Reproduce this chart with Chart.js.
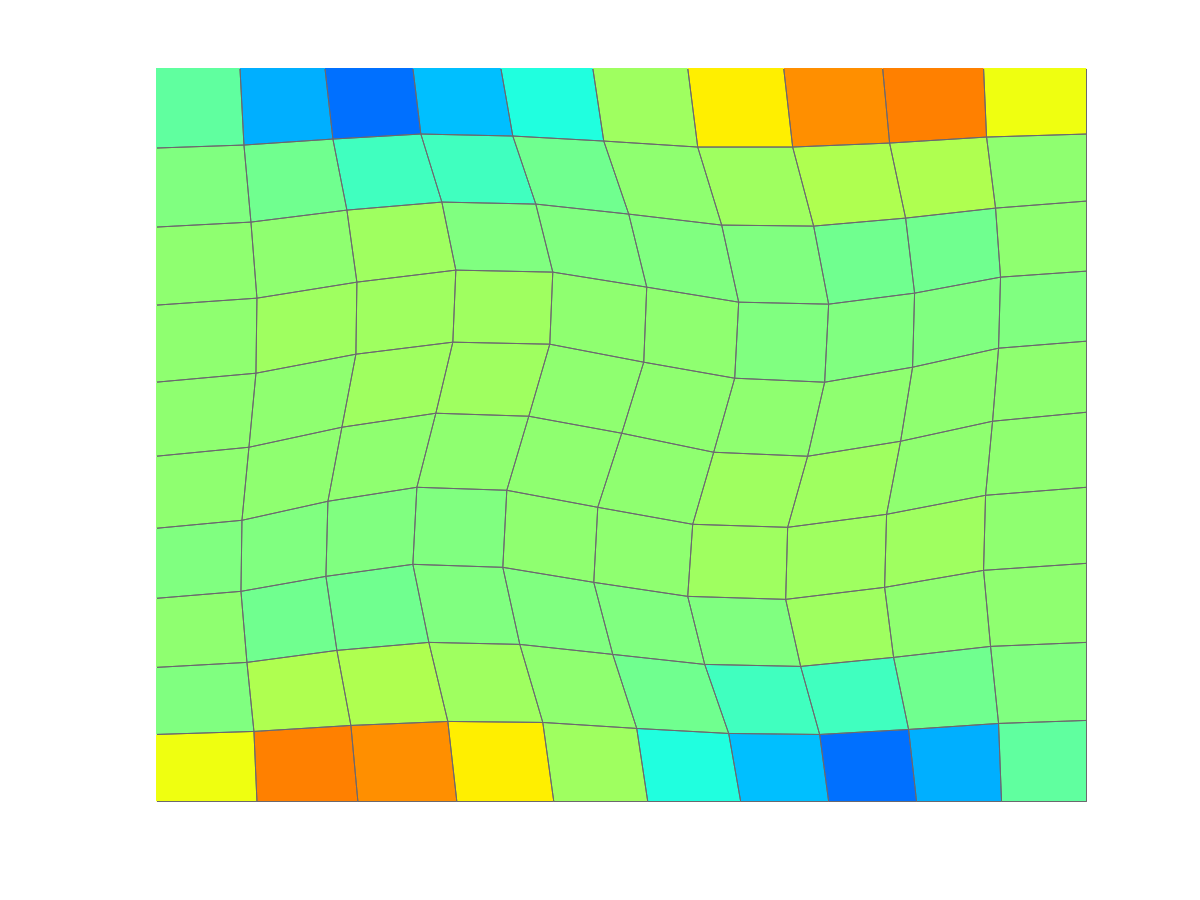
<!DOCTYPE html>
<html>
<head>
<meta charset="utf-8">
<script src="https://cdn.jsdelivr.net/npm/chart.js@4"></script>
<style>
  html, body { margin: 0; padding: 0; background: #fff; }
  canvas { display: block; }
</style>
</head>
<body>
<canvas id="mesh" width="1200" height="900"></canvas>
<script>
// mesh vertices, rows go from the top edge to the bottom edge
const meshX = [
  [0, 84, 169, 257, 345, 437, 532, 628, 727, 828, 931],
  [0, 88, 177, 265, 357, 448, 542, 637, 734, 831, 931],
  [0, 95, 191, 286, 380, 473, 566, 658, 750, 840, 931],
  [0, 101, 201, 300, 397, 491, 583, 673, 759, 845, 931],
  [0, 100, 200, 297, 394, 488, 579, 669, 757, 843, 931],
  [0, 93, 186, 280, 373, 466, 558, 652, 745, 837, 931],
  [0, 86, 172, 261, 351, 442, 537, 632, 731, 830, 931],
  [0, 85, 170, 257, 347, 438, 532, 630, 729, 828, 931],
  [0, 91, 181, 273, 364, 457, 549, 645, 738, 835, 931],
  [0, 98, 195, 292, 387, 481, 573, 664, 753, 843, 931],
  [0, 101, 202, 301, 398, 492, 585, 673, 761, 846, 931]
];
const meshY = [
  [733, 733, 733, 733, 733, 733, 733, 733, 733, 733, 733],
  [653, 656, 662, 667, 665, 660, 654, 654, 658, 664, 667],
  [574, 579, 591, 599, 597, 587, 576, 575, 583, 593, 600],
  [496, 503, 519, 531, 529, 514, 499, 497, 508, 524, 530],
  [419, 428, 447, 459, 457, 439, 423, 419, 434, 453, 460],
  [345, 354, 374, 388, 385, 368, 349, 345, 360, 380, 389],
  [273, 281, 300, 314, 311, 294, 277, 274, 287, 306, 314],
  [203, 210, 225, 237, 234, 219, 205, 202, 214, 231, 238],
  [134, 139, 151, 159, 157, 147, 137, 135, 144, 155, 159],
  [67, 70, 76, 80, 79, 73, 68, 67, 72, 78, 81],
  [0, 0, 0, 0, 0, 0, 0, 0, 0, 0, 0]
];
// cell values as colormap levels 1..64
const cellLevels = [
  [30, 19, 15, 20, 26, 34, 40, 46, 47, 39],
  [32, 31, 28, 28, 31, 33, 34, 35, 35, 33],
  [33, 33, 34, 32, 32, 32, 32, 31, 31, 33],
  [33, 34, 34, 34, 33, 33, 32, 32, 32, 32],
  [33, 33, 34, 34, 33, 33, 33, 33, 33, 33],
  [33, 33, 33, 33, 33, 33, 34, 34, 33, 33],
  [32, 32, 32, 32, 33, 33, 34, 34, 34, 33],
  [33, 31, 31, 32, 32, 32, 32, 34, 33, 33],
  [32, 35, 35, 34, 33, 31, 28, 28, 31, 32],
  [39, 47, 46, 40, 34, 26, 20, 15, 19, 30]
];

const edgeColor = '#6b686e';

// jet(64), same ramps as matlab
function jet(k) {
  const c = t => Math.round(255 * Math.max(0, Math.min(1, t)));
  const r = c(Math.min((k - 24) / 16, (71 - k) / 16));
  const g = c(Math.min((k - 8) / 16, (55 - k) / 16));
  const b = c(Math.min((k + 8) / 16, (40 - k) / 16));
  return `rgb(${r},${g},${b})`;
}

// every cell is a closed line dataset
const datasets = [];
cellLevels.forEach((row, i) => {
  row.forEach((level, j) => {
    const corners = [[i, j], [i, j + 1], [i + 1, j + 1], [i + 1, j], [i, j]];
    datasets.push({
      data: corners.map(([r, c]) => ({ x: meshX[r][c], y: meshY[r][c] })),
      showLine: true,
      fill: 'shape',
      backgroundColor: jet(level),
      borderColor: edgeColor,
      borderWidth: 1,
      pointRadius: 0,
      tension: 0,
      // left and top edges of the mesh are not visible in the picture
      clip: { left: -1, top: -1, right: 1, bottom: 1 }
    });
  });
});

new Chart(document.getElementById('mesh'), {
  type: 'scatter',
  data: { datasets: datasets },
  options: {
    responsive: false,
    animation: false,
    layout: { padding: { left: 156, right: 113.5, top: 68, bottom: 98.5 } },
    scales: {
      x: { type: 'linear', min: 0, max: 931, display: false },
      y: { type: 'linear', min: 0, max: 733, display: false }
    },
    plugins: {
      legend: { display: false },
      tooltip: { enabled: false },
      filler: { drawTime: 'beforeDatasetsDraw' }
    }
  }
});
</script>
</body>
</html>
